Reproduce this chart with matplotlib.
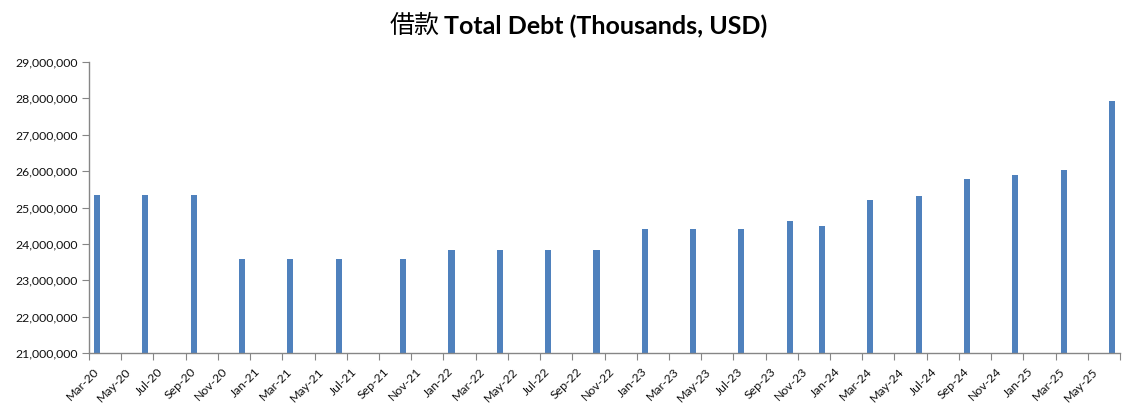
import matplotlib
matplotlib.use('Agg')
import matplotlib.pyplot as plt
from matplotlib.ticker import FuncFormatter, FixedLocator
import pandas as pd

# reporting months and total debt (thousands, USD)
months = ['2020-03', '2020-06', '2020-09', '2020-12', '2021-03', '2021-06',
          '2021-10', '2022-01', '2022-04', '2022-07', '2022-10', '2023-01',
          '2023-04', '2023-07', '2023-10', '2023-12', '2024-03', '2024-06',
          '2024-09', '2024-12', '2025-03', '2025-06']
debt = [25330000, 25330000, 25330000, 23580000, 23580000, 23580000,
        23580000, 23840000, 23840000, 23840000, 23840000, 24410000,
        24410000, 24410000, 24620000, 24490000, 25200000, 25310000,
        25780000, 25890000, 26030000, 27920000]

axis_start = pd.Period('2020-03', freq='M')
axis_end = pd.Period('2025-07', freq='M')
tick_periods = pd.period_range('2020-03', '2025-05', freq='M')[::2]
tick_labels = [p.strftime('%b-%y') for p in tick_periods]

title_cn = '借款'
title_en = 'Total Debt (Thousands, USD)'
bar_color = '#4F81BD'
axis_color = '#868686'

plt.rcParams['font.family'] = ['Lato', 'Noto Sans CJK SC', 'DejaVu Sans']

x = [(pd.Period(m, freq='M') - axis_start).n + 0.5 for m in months]
n_months = (axis_end - axis_start).n

fig = plt.figure(figsize=(11.37, 4.09), dpi=100)
ax = fig.add_axes([89 / 1137, 1 - 353 / 409, (1120 - 89) / 1137, (353 - 62) / 409])
ax.bar(x, debt, width=0.38, color=bar_color, zorder=2)

ax.set_xlim(0, n_months)
ax.set_ylim(21000000, 29000000)
ax.set_yticks(range(21000000, 29000001, 1000000))
ax.yaxis.set_major_formatter(FuncFormatter(lambda v, _: f'{v:,.0f}'))

# ticks at month boundaries, labels centred on the month slot
major = [(p - axis_start).n for p in tick_periods] + [n_months]
ax.xaxis.set_major_locator(FixedLocator(major))
ax.xaxis.set_minor_locator(FixedLocator([m + 0.5 for m in major[:-1]]))
ax.set_xticklabels([], minor=False)
ax.set_xticklabels(tick_labels, minor=True, rotation=45, ha='right',
                   va='center', rotation_mode='anchor')
ax.tick_params(axis='x', which='minor', length=0, pad=12, labelsize=8.8,
               labelcolor='#111111')
ax.tick_params(axis='x', which='major', length=5, color=axis_color, direction='out')
ax.tick_params(axis='y', length=5, color=axis_color, direction='out', pad=3,
               labelsize=8.8, labelcolor='#111111')

for side in ['top', 'right']:
    ax.spines[side].set_visible(False)
for side in ['left', 'bottom']:
    ax.spines[side].set_color(axis_color)
    ax.spines[side].set_linewidth(1.0)

# English part bold, Chinese part regular weight just to its left
en = fig.text(444 / 1137, 1 - 26 / 409, title_en, ha='left', va='center',
              fontsize=18, fontweight='bold')
ax.annotate(title_cn, xy=(0, 0.5), xycoords=en, xytext=(-3, 0),
            textcoords='offset points', ha='right', va='center',
            fontsize=18, family=['Noto Sans CJK SC'], annotation_clip=False)

fig.savefig('out.png', dpi=100)
